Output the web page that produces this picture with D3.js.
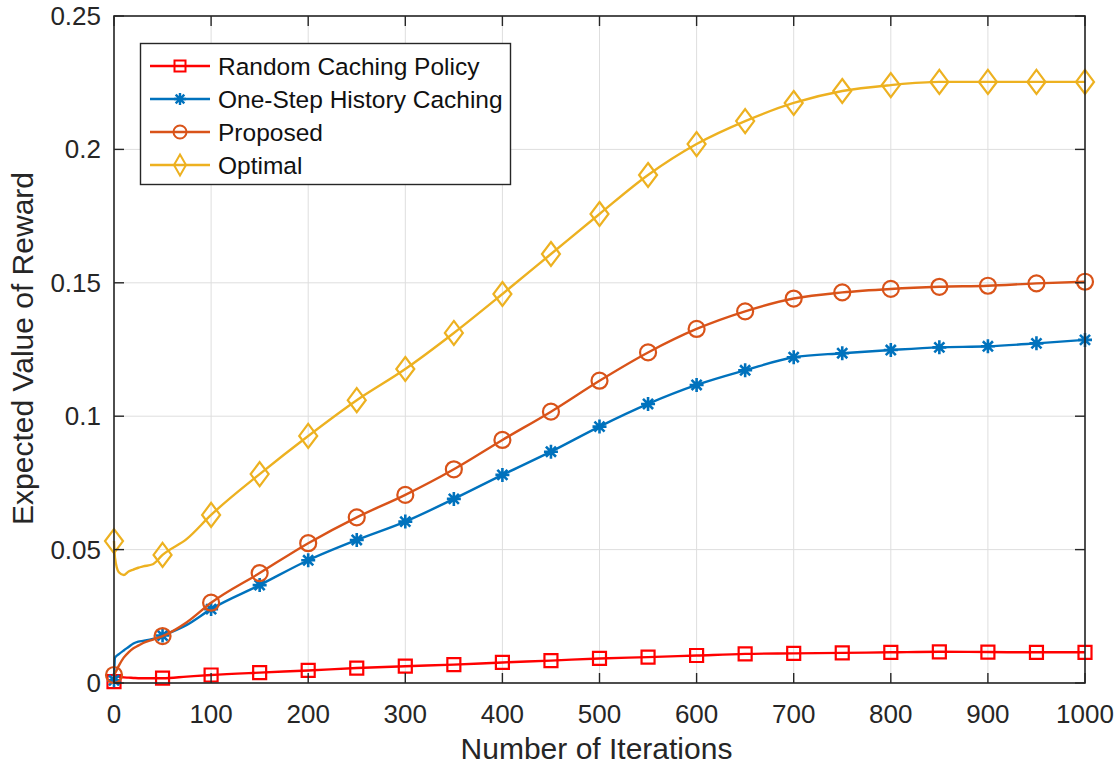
<!DOCTYPE html>
<html>
<head>
<meta charset="utf-8">
<script src="https://cdn.jsdelivr.net/npm/d3@7"></script>
<style>
  html, body { margin: 0; padding: 0; background: #fff; }
  svg { display: block; font-family: "Liberation Sans", Arial, Helvetica, sans-serif; }
</style>
</head>
<body>
<svg id="chart" width="1115" height="767"></svg>
<script>
// ---- data ----
const iterations = [0, 1, 5, 10, 15, 20, 25, 30, 40, 50, 75, 100, 150, 200, 250, 300, 350, 400, 450, 500, 550, 600, 650, 700, 750, 800, 850, 900, 950, 1000];
const randomCaching = [0.0005, 0.0025, 0.0024, 0.0021, 0.0020, 0.0019, 0.0018, 0.0018, 0.0018, 0.0018, 0.0024, 0.0030, 0.0039, 0.0047, 0.0056, 0.0063, 0.0069, 0.0077, 0.0084, 0.0092, 0.0097, 0.0103, 0.0109, 0.0111, 0.0113, 0.0115, 0.0117, 0.0116, 0.0115, 0.0115];
const oneStepHistory = [0.0010, 0.0095, 0.0108, 0.0122, 0.0135, 0.0148, 0.0155, 0.0158, 0.0165, 0.0178, 0.0218, 0.0277, 0.0367, 0.0460, 0.0536, 0.0605, 0.0690, 0.0780, 0.0867, 0.0961, 0.1046, 0.1117, 0.1172, 0.1221, 0.1236, 0.1248, 0.1258, 0.1262, 0.1273, 0.1286];
const proposed = [0.0030, 0.0036, 0.0065, 0.0095, 0.0115, 0.0130, 0.0140, 0.0150, 0.0163, 0.0176, 0.0228, 0.0301, 0.0412, 0.0524, 0.0621, 0.0705, 0.0801, 0.0911, 0.1017, 0.1133, 0.1239, 0.1327, 0.1393, 0.1441, 0.1464, 0.1477, 0.1485, 0.1489, 0.1498, 0.1504];
const optimal = [0.0532, 0.0470, 0.0415, 0.0405, 0.0418, 0.0425, 0.0432, 0.0437, 0.0445, 0.0480, 0.0540, 0.0630, 0.0783, 0.0926, 0.1060, 0.1177, 0.1312, 0.1458, 0.1608, 0.1758, 0.1904, 0.2020, 0.2106, 0.2174, 0.2219, 0.2241, 0.2253, 0.2253, 0.2253, 0.2253];
const seriesNames = ["Random Caching Policy", "One-Step History Caching", "Proposed", "Optimal"];
const seriesColors = ["#FF0000", "#0072BD", "#D95319", "#EDB120"];
const seriesMarkers = ["square", "asterisk", "circle", "diamond"];
const xTickValues = [0, 100, 200, 300, 400, 500, 600, 700, 800, 900, 1000];
const xTickLabels = ["0", "100", "200", "300", "400", "500", "600", "700", "800", "900", "1000"];
const yTickValues = [0, 0.05, 0.1, 0.15, 0.2, 0.25];
const yTickLabels = ["0", "0.05", "0.1", "0.15", "0.2", "0.25"];
const xAxisTitle = "Number of Iterations";
const yAxisTitle = "Expected Value of Reward";
const markerStep = 50;

// ---- layout ----
const svg = d3.select("#chart");
const pLeft = 114, pRight = 1085, pTop = 16, pBottom = 683;
const x = d3.scaleLinear().domain([0, 1000]).range([pLeft, pRight]);
const y = d3.scaleLinear().domain([0, 0.25]).range([pBottom, pTop]);
const axisColor = "#262626";

// grid
const grid = svg.append("g");
grid.selectAll("line.gx").data(xTickValues).join("line")
  .attr("x1", d => x(d)).attr("x2", d => x(d)).attr("y1", pTop).attr("y2", pBottom)
  .attr("stroke", "#dedede").attr("stroke-width", 1);
grid.selectAll("line.gy").data(yTickValues).join("line")
  .attr("y1", d => y(d)).attr("y2", d => y(d)).attr("x1", pLeft).attr("x2", pRight)
  .attr("stroke", "#dedede").attr("stroke-width", 1);

// series
const allSeries = [randomCaching, oneStepHistory, proposed, optimal];
const line = d3.line().x(d => x(d[0])).y(d => y(d[1])).curve(d3.curveMonotoneX);

function markerPath(type, cx, cy, s) {
  const p = d3.path();
  if (type === "square") {
    p.rect(cx - s.w / 2, cy - s.h / 2, s.w, s.h);
  } else if (type === "circle") {
    p.arc(cx, cy, s.r, 0, 2 * Math.PI);
  } else if (type === "diamond") {
    p.moveTo(cx, cy - s.h / 2); p.lineTo(cx + s.w / 2, cy); p.lineTo(cx, cy + s.h / 2); p.lineTo(cx - s.w / 2, cy); p.closePath();
  } else if (type === "asterisk") {
    const a = s.a, d = s.a * 0.72;
    p.moveTo(cx - a, cy); p.lineTo(cx + a, cy);
    p.moveTo(cx, cy - a); p.lineTo(cx, cy + a);
    p.moveTo(cx - d, cy - d); p.lineTo(cx + d, cy + d);
    p.moveTo(cx - d, cy + d); p.lineTo(cx + d, cy - d);
  }
  return p.toString();
}
const plotSizes = { w: 13, h: 13, r: 8, a: 7 };
const diamondPlot = { w: 18, h: 24 };

const plotG = svg.append("g");
allSeries.forEach((vals, i) => {
  const pts = iterations.map((it, k) => [it, vals[k]]);
  plotG.append("path").datum(pts).attr("d", line)
    .attr("fill", "none").attr("stroke", seriesColors[i]).attr("stroke-width", 2.4)
    .attr("stroke-linejoin", "round");
  const mk = pts.filter(d => d[0] % markerStep === 0);
  plotG.selectAll(null).data(mk).join("path")
    .attr("d", d => markerPath(seriesMarkers[i], x(d[0]), y(d[1]), seriesMarkers[i] === "diamond" ? diamondPlot : plotSizes))
    .attr("fill", "none").attr("stroke", seriesColors[i])
    .attr("stroke-width", seriesMarkers[i] === "asterisk" ? 2.6 : 2.2);
});

// axes box with inward ticks
const ax = svg.append("g");
ax.append("rect").attr("x", pLeft).attr("y", pTop).attr("width", pRight - pLeft).attr("height", pBottom - pTop)
  .attr("fill", "none").attr("stroke", axisColor).attr("stroke-width", 1.6);
const tl = 10;
xTickValues.forEach(v => {
  ax.append("line").attr("x1", x(v)).attr("x2", x(v)).attr("y1", pBottom).attr("y2", pBottom - tl).attr("stroke", axisColor).attr("stroke-width", 1.4);
  ax.append("line").attr("x1", x(v)).attr("x2", x(v)).attr("y1", pTop).attr("y2", pTop + tl).attr("stroke", axisColor).attr("stroke-width", 1.4);
});
yTickValues.forEach(v => {
  ax.append("line").attr("y1", y(v)).attr("y2", y(v)).attr("x1", pLeft).attr("x2", pLeft + tl).attr("stroke", axisColor).attr("stroke-width", 1.4);
  ax.append("line").attr("y1", y(v)).attr("y2", y(v)).attr("x1", pRight).attr("x2", pRight - tl).attr("stroke", axisColor).attr("stroke-width", 1.4);
});
ax.selectAll("text.xt").data(xTickValues).join("text")
  .attr("x", d => x(d)).attr("y", pBottom + 40).attr("text-anchor", "middle")
  .attr("font-size", 26).attr("fill", axisColor).text((d, i) => xTickLabels[i]);
ax.selectAll("text.yt").data(yTickValues).join("text")
  .attr("x", pLeft - 13).attr("y", d => y(d) + 9).attr("text-anchor", "end")
  .attr("font-size", 26).attr("fill", axisColor).text((d, i) => yTickLabels[i]);

svg.append("text").attr("x", (pLeft + pRight) / 2 - 3).attr("y", 759).attr("text-anchor", "middle")
  .attr("font-size", 30).attr("fill", axisColor).text(xAxisTitle);
svg.append("text").attr("transform", `translate(33, ${(pTop + pBottom) / 2 - 1}) rotate(-90)`)
  .attr("text-anchor", "middle").attr("font-size", 30).attr("fill", axisColor).text(yAxisTitle);

// legend
const lg = svg.append("g");
lg.append("rect").attr("x", 140.5).attr("y", 43.5).attr("width", 370).attr("height", 141)
  .attr("fill", "#fff").attr("stroke", axisColor).attr("stroke-width", 1.4);
const legendSizes = { w: 11, h: 11, r: 6.5, a: 6 };
const legendDiamond = { w: 12, h: 21 };
seriesNames.forEach((name, i) => {
  const cy = 66 + i * 33;
  lg.append("line").attr("x1", 150).attr("x2", 210).attr("y1", cy).attr("y2", cy)
    .attr("stroke", seriesColors[i]).attr("stroke-width", 2.4);
  lg.append("path").attr("d", markerPath(seriesMarkers[i], 180, cy, seriesMarkers[i] === "diamond" ? legendDiamond : legendSizes))
    .attr("fill", "none").attr("stroke", seriesColors[i]).attr("stroke-width", seriesMarkers[i] === "asterisk" ? 2.4 : 2);
  lg.append("text").attr("x", 218).attr("y", cy + 8.5).attr("font-size", 24.5).attr("fill", "#111").text(name);
});
</script>
</body>
</html>
